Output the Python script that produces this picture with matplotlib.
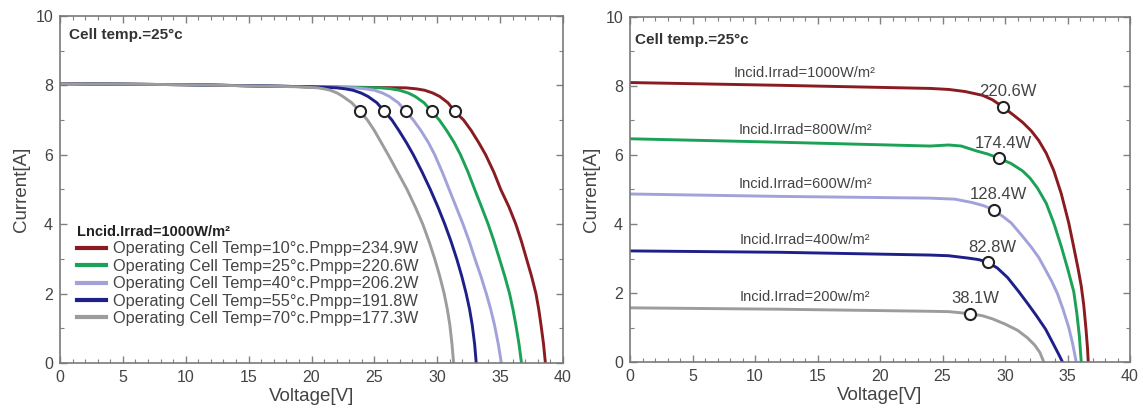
import numpy as np
import matplotlib.pyplot as plt
from matplotlib.ticker import MultipleLocator

plt.rcParams['font.family'] = ['Liberation Sans', 'DejaVu Sans']

# ---- left panel: I-V curves at 1000 W/m2 for several cell temperatures ----
# all five curves share the same current levels, only the voltage differs
left_current = [8.05, 8.02, 7.96, 7.93, 7.90, 7.86, 7.78, 7.68, 7.50, 7.25, 7.0, 6.7, 6.35,
                6.0, 5.5, 5.0, 4.5, 4.0, 3.5, 3.0, 2.5, 2.0, 1.55, 1.1, 0.55, 0.0]
left_voltage_10c = [0, 10, 20, 27.5, 28.35, 29.0, 29.65, 30.2, 30.85, 31.4, 32.1, 32.7, 33.3,
                    33.85, 34.5, 35.05, 35.7, 36.25, 36.7, 37.1, 37.5, 37.85, 38.07, 38.25, 38.45, 38.6]
left_voltage_25c = [0, 10, 20, 25.5, 26.35, 27.0, 27.7, 28.25, 28.95, 29.55, 30.17, 30.75, 31.35,
                    31.85, 32.45, 32.98, 33.52, 34.05, 34.52, 34.95, 35.37, 35.75, 36.02, 36.25, 36.5, 36.7]
left_voltage_40c = [0, 10, 20, 23.5, 24.3, 25.0, 25.65, 26.2, 26.9, 27.5, 28.1, 28.7, 29.3,
                    29.8, 30.4, 30.95, 31.5, 32.05, 32.55, 33.0, 33.47, 33.9, 34.25, 34.55, 34.85, 35.1]
left_voltage_55c = [0, 10, 20, 22.0, 22.7, 23.3, 23.95, 24.5, 25.2, 25.8, 26.4, 26.95, 27.55,
                    28.1, 28.8, 29.45, 30.05, 30.6, 31.1, 31.55, 31.95, 32.3, 32.57, 32.78, 32.97, 33.1]
left_voltage_70c = [0, 10, 19, 20.5, 21.0, 21.5, 22.05, 22.5, 23.2, 23.85, 24.45, 25.0, 25.55,
                    26.1, 26.85, 27.6, 28.25, 28.85, 29.35, 29.8, 30.2, 30.55, 30.8, 31.0, 31.17, 31.3]

# maximum power points marked with circles
left_mpp_voltage = [31.4, 29.55, 27.5, 25.8, 23.85]
left_mpp_current = [7.25, 7.25, 7.25, 7.25, 7.25]

left_labels = ["Operating Cell Temp=10°c.Pmpp=234.9W",
               "Operating Cell Temp=25°c.Pmpp=220.6W",
               "Operating Cell Temp=40°c.Pmpp=206.2W",
               "Operating Cell Temp=55°c.Pmpp=191.8W",
               "Operating Cell Temp=70°c.Pmpp=177.3W"]

# ---- right panel: I-V curves at 25 C for several irradiance levels ----
v_1000 = [0, 12, 24, 25.5, 26.8, 28.2, 29.0, 29.8, 30.6, 31.4, 32.1, 32.7, 33.3, 33.9,
          34.5, 35.1, 35.5, 35.85, 36.1, 36.3, 36.48, 36.6, 36.66]
i_1000 = [8.10, 8.02, 7.93, 7.90, 7.84, 7.73, 7.60, 7.40, 7.18, 6.95, 6.70, 6.42, 6.05, 5.55,
          4.88, 4.03, 3.33, 2.70, 2.20, 1.65, 0.95, 0.40, 0.0]
v_800 = [0, 12, 24, 25.5, 26.5, 27.7, 28.6, 29.5, 30.5, 31.4, 32.0, 32.6, 33.3, 33.9,
         34.5, 35.0, 35.5, 35.75, 35.95, 36.1]
i_800 = [6.47, 6.37, 6.26, 6.29, 6.26, 6.12, 6.03, 5.91, 5.75, 5.54, 5.33, 5.04, 4.60, 4.03,
         3.35, 2.72, 2.04, 1.40, 0.75, 0.0]
v_600 = [0, 12, 24, 26.0, 27.4, 28.3, 29.1, 29.9, 30.5, 31.5, 32.1, 32.7, 33.2, 33.75,
         34.2, 34.65, 35.1, 35.4, 35.7]
i_600 = [4.87, 4.80, 4.75, 4.72, 4.62, 4.53, 4.41, 4.20, 4.03, 3.60, 3.33, 3.03, 2.70, 2.33,
         1.98, 1.52, 1.00, 0.55, 0.0]
v_400 = [0, 12, 24, 25.5, 27.1, 27.85, 28.6, 29.4, 30.2, 31.1, 31.8, 32.5, 33.25, 33.9,
         34.3, 34.6]
i_400 = [3.22, 3.18, 3.10, 3.08, 3.01, 2.97, 2.90, 2.72, 2.45, 2.04, 1.70, 1.35, 0.95, 0.50,
         0.22, 0.0]
v_200 = [0, 12, 24, 25.5, 27.2, 28.2, 29.0, 30.0, 31.0, 31.8, 32.4, 32.8, 33.1]
i_200 = [1.57, 1.53, 1.47, 1.46, 1.40, 1.34, 1.25, 1.10, 0.92, 0.70, 0.48, 0.27, 0.0]

irrad_labels = ["Incid.Irrad=1000W/m²", "Incid.Irrad=800W/m²", "Incid.Irrad=600W/m²",
                "Incid.Irrad=400w/m²", "Incid.Irrad=200w/m²"]
right_mpp_power = [220.6, 174.4, 128.4, 82.8, 38.1]
right_mpp_voltage = [29.8, 29.5, 29.1, 28.6, 27.2]

colors = ["#8a1b20", "#1ca257", "#a2a2da", "#1f1f8a", "#9c9c9c"]
text_color = "#444444"


def style_axes(ax):
    ax.set_xlim(0, 40)
    ax.set_ylim(0, 10)
    ax.xaxis.set_major_locator(MultipleLocator(5))
    ax.xaxis.set_minor_locator(MultipleLocator(1))
    ax.yaxis.set_major_locator(MultipleLocator(2))
    ax.yaxis.set_minor_locator(MultipleLocator(1))
    ax.tick_params(which='both', direction='in', top=True, right=True,
                   colors='#808080', labelcolor=text_color, labelsize=11.5)
    ax.tick_params(which='major', length=5, width=1, pad=5)
    ax.tick_params(which='minor', length=3, width=0.8)
    for spine in ax.spines.values():
        spine.set_color('#7a7a7a')
        spine.set_linewidth(1.2)
    ax.set_xlabel("Voltage[V]", fontsize=13.5, color=text_color, labelpad=2)
    ax.set_ylabel("Current[A]", fontsize=13.5, color=text_color, labelpad=4)


fig = plt.figure(figsize=(11.43, 4.15), dpi=100)
ax1 = fig.add_axes([60 / 1143, 52 / 415, 503 / 1143, 347 / 415])
ax2 = fig.add_axes([630 / 1143, 53 / 415, 500 / 1143, 345 / 415])

# left panel
left_voltages = [left_voltage_10c, left_voltage_25c, left_voltage_40c,
                 left_voltage_55c, left_voltage_70c]
for volts, color, label in zip(left_voltages, colors, left_labels):
    ax1.plot(volts, left_current, color=color, lw=2.1, label=label,
             solid_joinstyle='round')
ax1.plot(left_mpp_voltage, left_mpp_current, 'o', ls='none', ms=8,
         mfc='white', mec='#222222', mew=1.5, zorder=5)
style_axes(ax1)
ax1.text(0.018, 0.945, "Cell temp.=25°c", transform=ax1.transAxes,
         fontsize=11, fontweight='bold', color='#333333', va='center')

leg = ax1.legend(loc='upper left', bbox_to_anchor=(0.034, 0.398), frameon=False,
                 fontsize=11.8, title="Lncid.Irrad=1000W/m²",
                 title_fontproperties={'weight': 'bold', 'size': 10.5},
                 alignment='left', handlelength=1.75, handletextpad=0.45,
                 labelspacing=0.15, borderpad=0, borderaxespad=0)
leg.get_title().set_color('#222222')
for t in leg.get_texts():
    t.set_color(text_color)
for h in leg.get_lines():
    h.set_linewidth(3)

# right panel
right_curves = [(v_1000, i_1000), (v_800, i_800), (v_600, i_600),
                (v_400, i_400), (v_200, i_200)]
for (volts, amps), color, label in zip(right_curves, colors, irrad_labels):
    ax2.plot(volts, amps, color=color, lw=2.1, solid_joinstyle='round')
    ax2.annotate(label, xy=(14, amps[1]), xytext=(0, 12), textcoords='offset pixels',
                 ha='center', va='center', fontsize=10.5, color=text_color)

right_mpp_current = np.array(right_mpp_power) / np.array(right_mpp_voltage)
ax2.plot(right_mpp_voltage, right_mpp_current, 'o', ls='none', ms=8,
         mfc='white', mec='#222222', mew=1.5, zorder=5)
for v, i, p in zip(right_mpp_voltage, right_mpp_current, right_mpp_power):
    ax2.annotate(f"{p}W", xy=(v, i), xytext=(5, 15), textcoords='offset pixels',
                 ha='center', va='center', fontsize=12, color=text_color)

style_axes(ax2)
ax2.text(0.01, 0.932, "Cell temp.=25°c", transform=ax2.transAxes,
         fontsize=11, fontweight='bold', color='#333333', va='center')

fig.savefig("out.png", dpi=100)
